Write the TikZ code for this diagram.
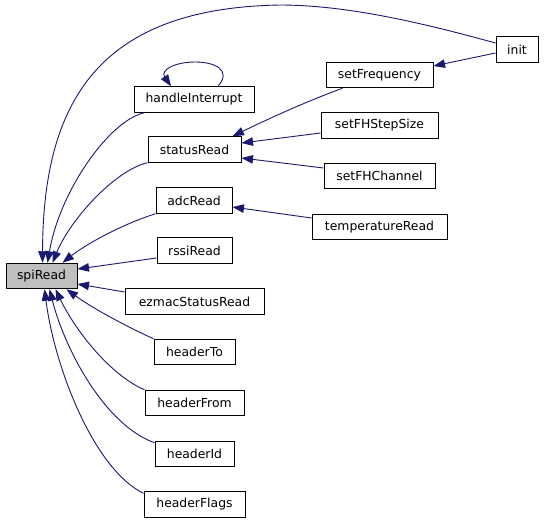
\documentclass[tikz,border=0pt]{standalone}
\usepackage{fontspec}
\setmainfont{DejaVu Sans}
\usetikzlibrary{arrows.meta,calc}
\definecolor{edgeblue}{HTML}{191970}
\begin{document}
\begin{tikzpicture}[x=1pt,y=-1pt,
  fn/.style={draw=black,line width=1pt,fill=white,minimum height=25.5pt,inner sep=0pt,
    font=\fontsize{12.4}{14}\selectfont},
  cur/.style={fn,fill=black!25},
  call/.style={draw=edgeblue,line width=0.9pt,-{Triangle[length=11.5pt,width=8.5pt]},
    fill=none},
]
\useasboundingbox (0,0) rectangle (544,523);
\fill[white] (0,0) rectangle (544,523);
% nodes
\node[cur,minimum width=71pt] (spiRead) at (41.5,276) {spiRead};
\node[fn,minimum width=120pt] (handleInterrupt) at (194,99.5) {handleInterrupt};
\node[fn,minimum width=93pt] (statusRead) at (194.5,149.5) {statusRead};
\node[fn,minimum width=76pt] (adcRead) at (194,200.5) {adcRead};
\node[fn,minimum width=75pt] (rssiRead) at (194.5,250.5) {rssiRead};
\node[fn,minimum width=139pt] (ezmacStatusRead) at (194.5,301.5) {ezmacStatusRead};
\node[fn,minimum width=81pt] (headerTo) at (194.5,352) {headerTo};
\node[fn,minimum width=99pt] (headerFrom) at (194.5,403) {headerFrom};
\node[fn,minimum width=79pt] (headerId) at (194.5,454) {headerId};
\node[fn,minimum width=101pt] (headerFlags) at (194.5,504.5) {headerFlags};
\node[fn,minimum width=42pt] (init) at (517,49.5) {init};
\node[fn,minimum width=107pt] (setFrequency) at (379.5,75) {setFrequency};
\node[fn,minimum width=117pt] (setFHStepSize) at (379.5,125.5) {setFHStepSize};
\node[fn,minimum width=111pt] (setFHChannel) at (379.5,176) {setFHChannel};
\node[fn,minimum width=135pt] (temperatureRead) at (379.5,227) {temperatureRead};
% edges into spiRead
\draw[call] ($(init.west)+(0,-6.5)$) .. controls (430,25) and (350,5) .. (280,5)
  .. controls (100,8) and (43,100) .. ($(spiRead.north west)+(37,0)$);
\draw[call] ($(handleInterrupt.south west)+(11,0)$) .. controls (110,120) and (60,190) .. ($(spiRead.north west)+(42,0)$);
\draw[call] (statusRead.south west) .. controls (115,170) and (70,220) .. ($(spiRead.north west)+(47,0)$);
\draw[call] (adcRead.south west) .. controls (120,225) and (85,245) .. ($(spiRead.north west)+(57,0)$);
\draw[call] ($(rssiRead.west)+(0,7.5)$) -- ($(spiRead.east)+(0,-7)$);
\draw[call] ($(ezmacStatusRead.west)+(0,-9.5)$) -- ($(spiRead.east)+(0,8)$);
\draw[call] (headerTo.north west) .. controls (130,328) and (95,310) .. ($(spiRead.south west)+(61,0)$);
\draw[call] (headerFrom.north west) .. controls (110,375) and (75,330) .. ($(spiRead.south west)+(50,0)$);
\draw[call] ($(headerId.north west)+(0,2)$) .. controls (105,425) and (65,350) .. ($(spiRead.south west)+(44,0)$);
\draw[call] ($(headerFlags.north west)+(0,2)$) .. controls (95,470) and (55,370) .. ($(spiRead.south west)+(39,0)$);
% other edges
\draw[call] ($(init.west)+(0,3.5)$) -- ($(setFrequency.east)+(0,-9)$);
\draw[call] ($(setFrequency.south west)+(17,0)$) .. controls (310,100) and (270,118) .. ($(statusRead.north east)+(-9,0)$);
\draw[call] ($(setFHStepSize.west)+(0,7.5)$) -- ($(statusRead.east)+(0,-6.5)$);
\draw[call] ($(setFHChannel.west)+(0,-8)$) -- ($(statusRead.east)+(0,8.5)$);
\draw[call] ($(temperatureRead.west)+(0,-9)$) -- ($(adcRead.east)+(0,6.5)$);
\draw[call] ($(handleInterrupt.north)+(24,0)$) .. controls (232,70) and (215,62) .. (195,62)
  .. controls (175,62) and (160,70) .. ($(handleInterrupt.north)+(-23,0)$);
\end{tikzpicture}
\end{document}
